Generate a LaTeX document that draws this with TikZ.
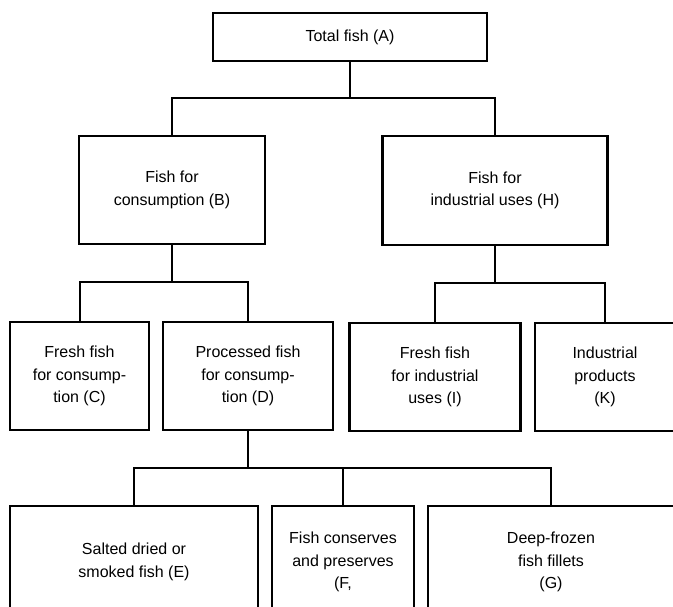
\documentclass[tikz,border=0pt]{standalone}
\usepackage{fontspec}
\setmainfont{Liberation Sans}
\begin{document}
\begin{tikzpicture}[x=1pt,y=-1pt,
  box/.style={draw=black, line width=2.2pt, fill=white, align=center, inner sep=0pt,
    font=\fontsize{16}{22.5}\selectfont},
  link/.style={draw=black, line width=2pt}]
\clip (0,0) rectangle (673,606);
\fill[white] (0,0) rectangle (673,606);
% boxes
\node[box, minimum width=274pt, minimum height=48pt] (A) at (350,37) {Total fish (A)};
\node[box, minimum width=186pt, minimum height=108pt] (B) at (172,190) {Fish for\\consumption (B)};
\node[box, minimum width=225pt, minimum height=109pt] (H) at (495,190.5) {Fish for\\industrial uses (H)};
\node[box, minimum width=139pt, minimum height=108pt] (C) at (79.5,376) {Fresh fish\\for consump-\\tion (C)};
\node[box, minimum width=170pt, minimum height=108pt] (D) at (248,376) {Processed fish\\for consump-\\tion (D)};
\node[box, minimum width=171pt, minimum height=108pt] (I) at (435,377) {Fresh fish\\for industrial\\uses (I)};
\node[box, minimum width=140pt, minimum height=108pt] (K) at (605,377) {Industrial\\products\\(K)};
\node[box, minimum width=248pt, minimum height=112pt] (E) at (134,562) {Salted dried or\\smoked fish (E)};
\node[box, minimum width=142pt, minimum height=112pt] (F) at (343,562) {Fish conserves\\and preserves\\(F,};
\node[box, minimum width=246pt, minimum height=112pt] (G) at (551,562) {Deep-frozen\\fish fillets\\(G)};
% junctions
\coordinate (jA) at (350,98);
\coordinate (jB) at (172,282);
\coordinate (jH) at (495,283);
\coordinate (jD) at (248,468);
% connectors
\draw[link] (A.south) -- (jA);
\draw[link] (B.north) |- (jA) -| (H.north);
\draw[link] (B.south) -- (jB);
\draw[link] (C.north) |- (jB) -| (D.north);
\draw[link] (H.south) -- (jH);
\draw[link] (I.north) |- (jH) -| (K.north);
\draw[link] (D.south) -- (jD);
\draw[link] (E.north) |- (jD) -| (G.north);
\draw[link] (F.north) -- (F.north |- jD);
\end{tikzpicture}
\end{document}
